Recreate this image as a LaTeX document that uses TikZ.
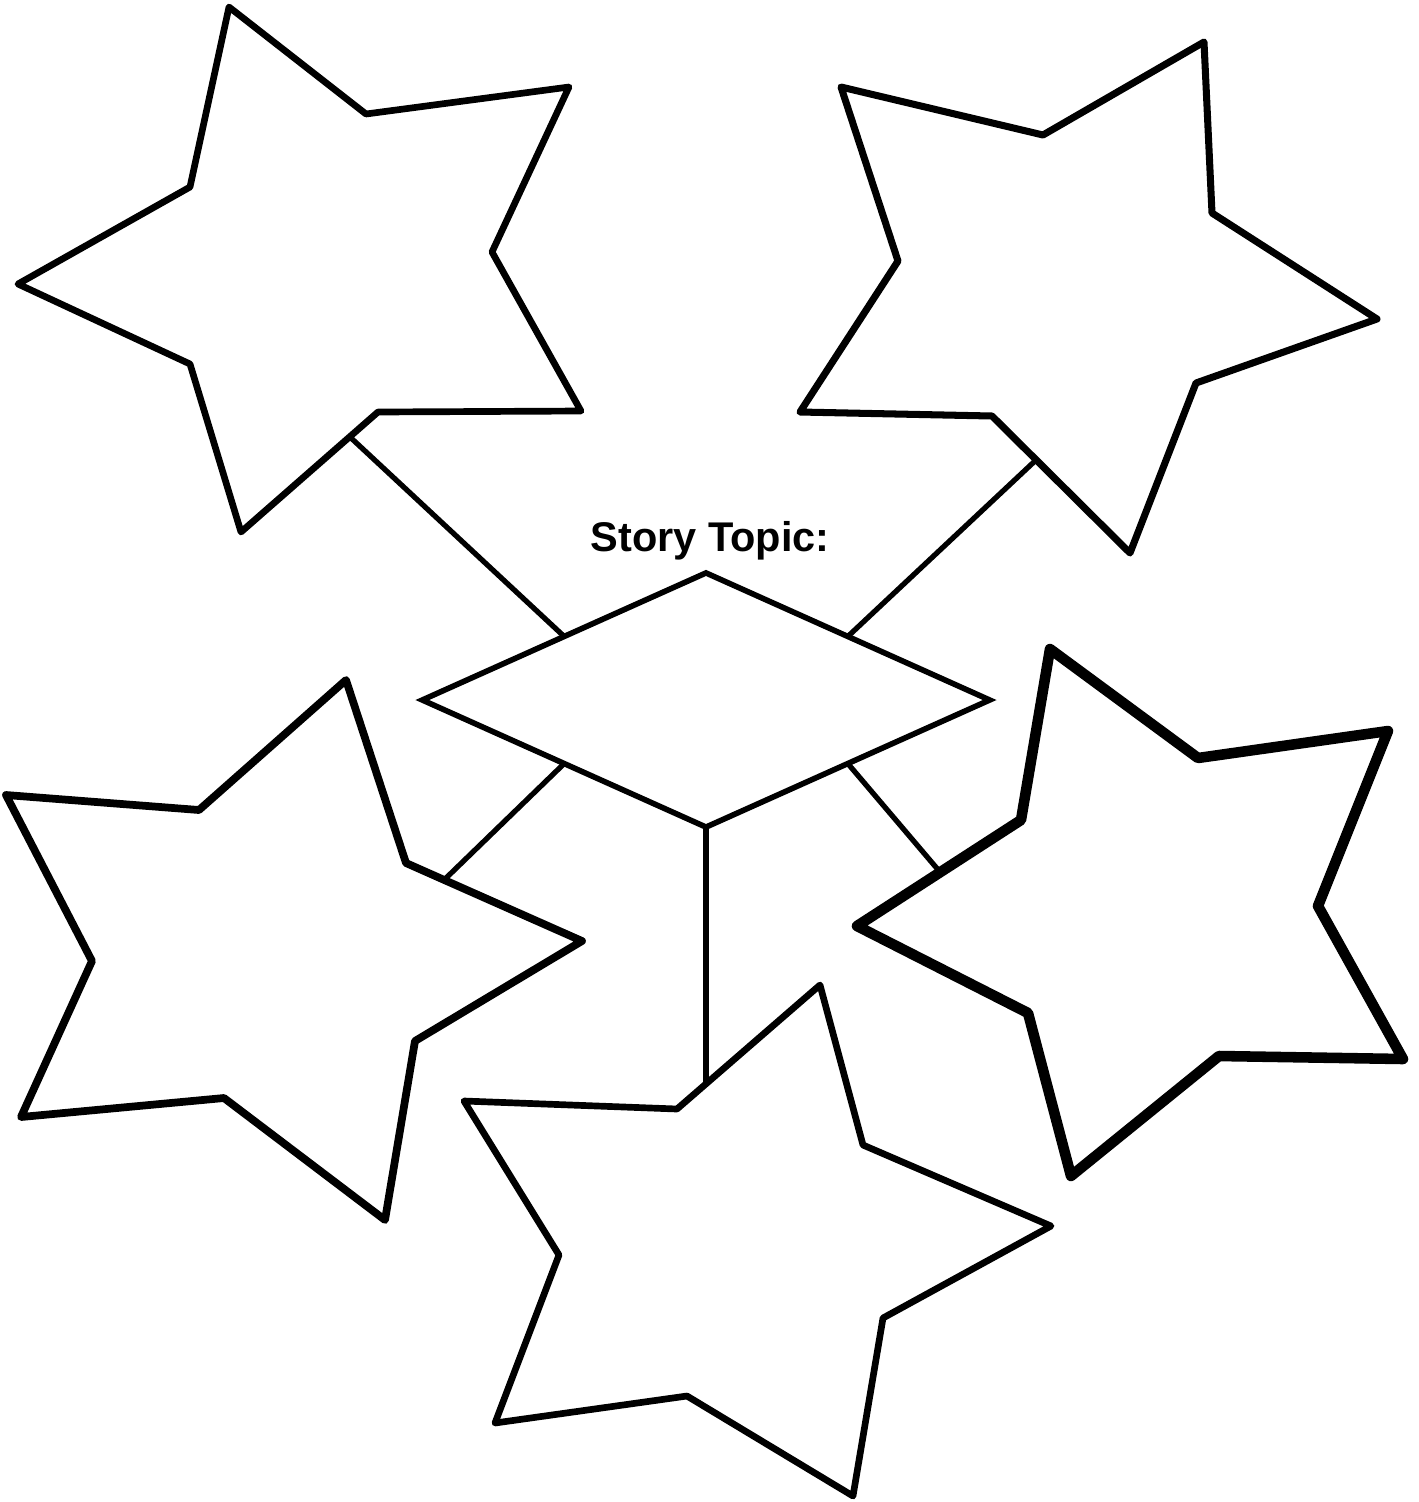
\documentclass[tikz,border=0pt]{standalone}
\usepackage{fontspec}
\setmainfont{Liberation Sans}
\usetikzlibrary{shapes.geometric,positioning}

\begin{document}
\begin{tikzpicture}[x=0.01cm,y=-0.01cm,
    star/.style={draw,line width=#1,line join=round},
    star/.default=1.9pt,
    link/.style={line width=1.5pt},
    topicbox/.style={diamond,draw,line width=1.6pt,minimum width=5.67cm,
      minimum height=2.54cm,inner sep=0pt,outer sep=0pt}]
    \useasboundingbox (0,0) rectangle (1419,1502);

    % centre: story topic
    \node[topicbox] (topic) at (706,700) {};
    \node[anchor=base,font=\bfseries\fontsize{11.8}{14}\selectfont] (title) at (710,551) {Story Topic:};

    % the five stars
    \draw[star] (229,7) -- (366,114) -- (569,87) -- (492,252) -- (581,411) -- (378,412)
      -- (241,532) -- (190,364) -- (18,284) -- (190,187) -- cycle;
    \draw[star=2pt] (1204,42) -- (1212,213) -- (1377,319) -- (1196,383) -- (1130,553) -- (992,416)
      -- (800,412) -- (898,261) -- (841,87) -- (1043,135) -- cycle;
    \draw[star=2.2pt] (346,680) -- (406,863) -- (582,941) -- (415,1041) -- (385,1220) -- (224,1098)
      -- (21,1117) -- (92,961) -- (6,795) -- (199,810) -- cycle;
    \draw[star=3pt] (1050,649) -- (1198,758) -- (1388,731) -- (1318,906) -- (1403,1059) -- (1219,1056)
      -- (1071,1176) -- (1028,1013) -- (857,926) -- (1021,820) -- cycle;
    \draw[star] (820,985) -- (863,1145) -- (1051,1226) -- (883,1318) -- (853,1496) -- (687,1396)
      -- (495,1423) -- (559,1255) -- (464,1101) -- (677,1109) -- cycle;

    % where the links meet the stars
    \coordinate (tlstar) at (350,437);
    \coordinate (trstar) at (1036,460);
    \coordinate (blstar) at (444,880);
    \coordinate (brstar) at (940,872);
    \coordinate (bstar) at (706,1084);

    \foreach \a/\b in {north west/tlstar,north east/trstar,south west/blstar,south east/brstar,south/bstar} {
      \draw[link] (topic.\a) -- (\b);
    }
\end{tikzpicture}
\end{document}
